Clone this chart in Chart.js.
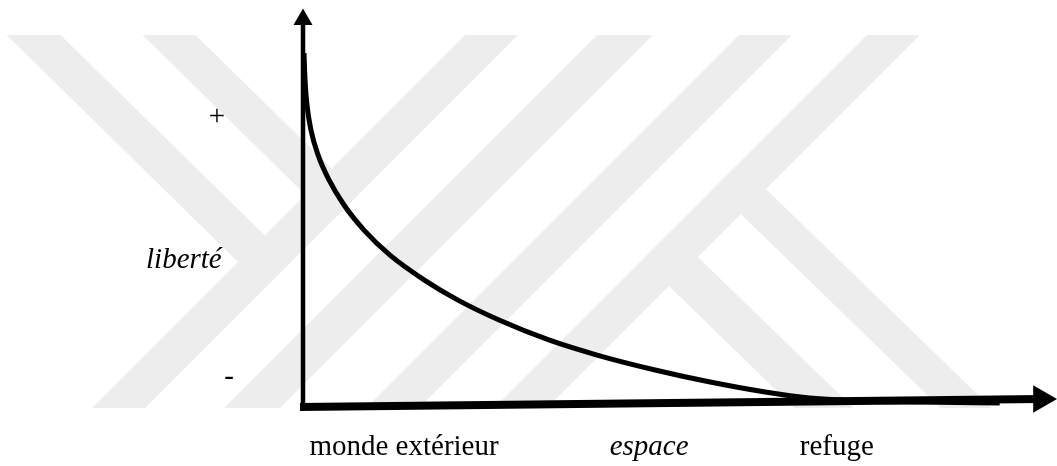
<!DOCTYPE html>
<html>
<head>
<meta charset="utf-8">
<script src="https://cdn.jsdelivr.net/npm/chart.js@4.4.1/dist/chart.umd.min.js"></script>
<style>
  html, body { margin: 0; padding: 0; background: #fff; }
  canvas { display: block; }
  .preload { position: absolute; left: -9999px; font-family: "Liberation Serif", "Times New Roman", serif; font-size: 29px; }
</style>
</head>
<body>
<span class="preload">monde <i>espace</i></span>
<canvas id="freedomChart" width="1057" height="466"></canvas>
<script>
// curve: liberte vs espace (values in 0..100 units of each axis)
const curveX = [0.13, 0.27, 0.53, 1.06, 1.99, 3.45, 5.44, 8.09, 11.54, 16.05, 20.56, 26.0, 32.6, 39.0, 46.7, 54.0, 61.3, 67.2, 73.9, 81.8, 92.4];
const curveY = [88.7, 81.9, 75.6, 69.3, 63.1, 56.8, 50.5, 44.2, 37.9, 31.7, 26.6, 21.6, 16.6, 12.8, 9.05, 6.03, 3.52, 2.01, 1.26, 1.0, 0.75];

// hand drawn axes with arrows
const yAxisX = [0, 0];
const yAxisY = [-0.5, 97.1];
const xAxisX = [-0.4, 97.9];
const xAxisY = [-0.25, 1.76];

// labels
const xLabels = ['monde extérieur', 'espace', 'refuge'];
const xLabelAt = [13.4, 45.9, 70.8];
const xLabelItalic = [false, true, false];
const yLabels = ['+', '-'];
const yLabelAt = [70.5, 5.2];
const yLabelX = [-11.4, -9.8];
const yTitle = 'liberté';
const yTitleAt = [-15.8, 34.7];

const FONT = '"Liberation Serif", "Times New Roman", Times, "DejaVu Serif", serif';

// faint background watermark (canvas pixels)
const watermark = [
  [[6.5, 35], [60.5, 35], [291.5, 261.5], [264.8, 288.2]],
  [[142.5, 35], [195.5, 35], [358.4, 194.7], [332.1, 220.9]],
  [[465, 35], [518, 35], [145, 408], [92, 408]],
  [[597, 35], [653, 35], [280, 408], [224, 408]],
  [[739, 35], [792, 35], [419, 408], [366, 408]],
  [[867, 35], [920, 35], [547, 408], [494, 408]],
  [[739.2, 163], [991.5, 408], [940.5, 408], [714, 188]],
  [[671.1, 230.9], [853.5, 408], [794.5, 408], [642.1, 260]]
];

function pts(xs, ys) {
  return xs.map((x, i) => ({ x: x, y: ys[i] }));
}

const watermarkPlugin = {
  id: 'watermark',
  beforeDraw(chart) {
    const ctx = chart.ctx;
    ctx.save();
    ctx.fillStyle = '#ededed';
    watermark.forEach(poly => {
      ctx.beginPath();
      poly.forEach((p, i) => i ? ctx.lineTo(p[0], p[1]) : ctx.moveTo(p[0], p[1]));
      ctx.closePath();
      ctx.fill();
    });
    ctx.restore();
  }
};

const labelPlugin = {
  id: 'labels',
  afterDatasetsDraw(chart) {
    const ctx = chart.ctx;
    const xs = chart.scales.x, ys = chart.scales.y;
    ctx.save();
    ctx.fillStyle = '#000';
    ctx.textBaseline = 'alphabetic';
    ctx.textAlign = 'center';
    const base = ys.getPixelForValue(0) + 49;
    xLabels.forEach((t, i) => {
      ctx.font = (xLabelItalic[i] ? 'italic ' : '') + '29px ' + FONT;
      ctx.fillText(t, xs.getPixelForValue(xLabelAt[i]), base);
    });
    ctx.font = '29px ' + FONT;
    yLabels.forEach((t, i) => {
      ctx.fillText(t, xs.getPixelForValue(yLabelX[i]), ys.getPixelForValue(yLabelAt[i]));
    });
    ctx.font = 'italic 29px ' + FONT;
    ctx.fillText(yTitle, xs.getPixelForValue(yTitleAt[0]), ys.getPixelForValue(yTitleAt[1]));
    ctx.restore();
  }
};

function draw() {
  new Chart(document.getElementById('freedomChart').getContext('2d'), {
    type: 'line',
    data: {
      datasets: [
        {
          data: pts(curveX, curveY),
          borderColor: '#000',
          borderWidth: 5,
          pointRadius: 0,
          cubicInterpolationMode: 'monotone',
          fill: false,
          clip: false
        },
        {
          data: pts(yAxisX, yAxisY),
          borderColor: '#000',
          borderWidth: 4.5,
          pointRadius: [0, 11],
          pointStyle: 'triangle',
          pointBackgroundColor: '#000',
          pointBorderWidth: 0,
          fill: false,
          clip: false
        },
        {
          data: pts(xAxisX, xAxisY),
          borderColor: '#000',
          borderWidth: 8,
          pointRadius: [0, 16],
          pointStyle: 'triangle',
          pointRotation: 90,
          pointBackgroundColor: '#000',
          pointBorderWidth: 0,
          fill: false,
          clip: false
        }
      ]
    },
    options: {
      responsive: false,
      animation: false,
      layout: { autoPadding: false, padding: { left: 303, right: 0, top: 8, bottom: 60 } },
      scales: {
        x: { type: 'linear', min: 0, max: 100, display: false },
        y: { type: 'linear', min: 0, max: 100, display: false }
      },
      plugins: {
        legend: { display: false },
        tooltip: { enabled: false }
      }
    },
    plugins: [watermarkPlugin, labelPlugin]
  });
}

Promise.all([
  document.fonts.load('29px "Liberation Serif"'),
  document.fonts.load('italic 29px "Liberation Serif"')
]).then(draw, draw);
</script>
</body>
</html>
